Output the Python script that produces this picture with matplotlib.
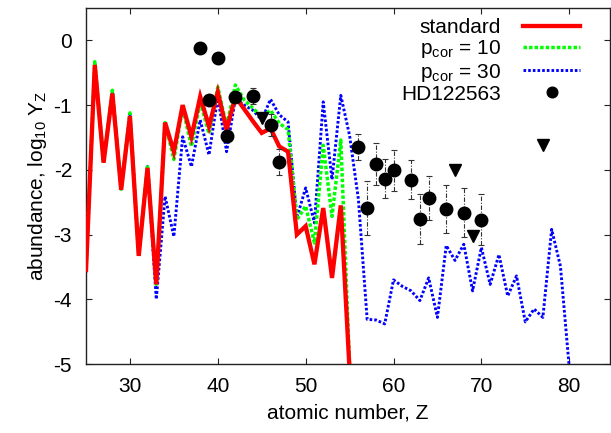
import numpy as np
import matplotlib
matplotlib.use("Agg")
import matplotlib.pyplot as plt

plt.rcParams['font.family'] = ['Liberation Sans', 'DejaVu Sans']
plt.rcParams['mathtext.fontset'] = 'custom'
plt.rcParams['mathtext.rm'] = 'Liberation Sans'
plt.rcParams['mathtext.it'] = 'Liberation Sans:italic'
plt.rcParams['axes.unicode_minus'] = False

# ---- data ----
z_std = list(range(25, 56))
y_std = [-3.55, -0.38, -1.89, -0.82, -2.31, -1.17, -3.33, -1.97, -3.77, -1.27,
         -1.72, -1.00, -1.49, -0.87, -1.33, -0.80, -1.38, -0.87, -1.06, -1.25,
         -1.43, -1.36, -1.64, -1.72, -3.00, -2.87, -3.46, -2.59, -3.67, -2.55,
         -5.10]

z_p10 = list(range(25, 56))
y_p10 = [-3.55, -0.33, -1.87, -0.77, -2.30, -1.12, -3.30, -1.93, -3.77, -1.27,
         -1.84, -1.04, -1.64, -0.95, -1.44, -0.72, -1.33, -0.69, -0.92, -1.05,
         -1.18, -1.08, -1.28, -1.38, -2.77, -2.56, -3.13, -1.62, -2.72, -1.54,
         -5.02]

z_p30 = list(range(25, 81))
y_p30 = [-3.55, -0.35, -1.88, -0.79, -2.30, -1.14, -3.31, -1.95, -4.00, -2.41,
         -3.03, -1.49, -1.95, -1.23, -1.77, -0.87, -1.72, -0.90, -1.00, -1.08,
         -1.23, -0.91, -1.15, -1.26, -2.74, -2.28, -2.82, -0.95, -2.15, -0.85,
         -1.47, -2.45, -4.31, -4.32, -4.38, -3.70, -3.80, -3.87, -4.02, -3.67,
         -4.28, -3.17, -3.40, -3.15, -3.87, -3.20, -3.77, -3.31, -3.95, -3.64,
         -4.35, -4.15, -4.28, -2.92, -3.49, -5.05]

obs_z = [38, 39, 40, 41, 42, 44, 46, 47, 56, 57, 58, 59, 60, 62, 63, 64, 66, 68, 70]
obs_y = [-0.12, -0.92, -0.28, -1.48, -0.87, -0.86, -1.31, -1.88, -1.65, -2.59,
         -1.91, -2.14, -2.01, -2.15, -2.76, -2.44, -2.61, -2.66, -2.77]
obs_err = [0, 0, 0, 0, 0, 0.12, 0.17, 0.20, 0.20, 0.41,
           0.32, 0.30, 0.32, 0.30, 0.38, 0.34, 0.37, 0.38, 0.39]

lim_z = [45, 67, 69, 77]
lim_y = [-1.20, -2.01, -3.02, -1.62]

xticks = [30, 40, 50, 60, 70, 80]
yticks = [0, -1, -2, -3, -4, -5]

# ---- figure ----
fig = plt.figure(figsize=(6.11, 4.33), dpi=100)
ax = fig.add_axes([86/611, (433-364)/433, (610-86)/611, (364-8)/433])

ax.plot(z_p30, y_p30, color='#0000ff', lw=2.1, linestyle=(0, (0.9, 0.7)),
        label=r'p$_\mathrm{cor}$ = 30', zorder=2)
ax.plot(z_p10, y_p10, color='#00ff00', lw=2.5, linestyle=(0, (1.0, 0.6)),
        label=r'p$_\mathrm{cor}$ = 10', zorder=3)
ax.plot(z_std, y_std, color='#ff0000', lw=3.1, solid_joinstyle='miter',
        label='standard', zorder=4)

ez = [z for z, e in zip(obs_z, obs_err) if e > 0]
ey = [y for y, e in zip(obs_y, obs_err) if e > 0]
ee = [e for e in obs_err if e > 0]
eb = ax.errorbar(ez, ey, yerr=ee, fmt='none', ecolor='#333333', elinewidth=0.8,
                 capsize=2.5, capthick=0.8, zorder=5)
for lc in eb[2]:
    lc.set_linestyle((0, (4, 1.5, 1, 1.5)))

ax.plot(obs_z, obs_y, 'o', color='black', markersize=9, linestyle='none',
        label='HD122563', zorder=6)
ax.plot(lim_z, lim_y, 'v', color='black', markersize=8, linestyle='none', zorder=6)

ax.set_xlim(25, 25 + 524/8.786)
ax.set_ylim(-5, 0.5)
ax.set_xticks(xticks)
ax.set_yticks(yticks)
ax.set_xticklabels([str(t) for t in xticks])
ax.set_yticklabels([str(t) for t in yticks])
ax.tick_params(direction='in', length=4.5, width=0.8, top=True, right=True,
               labelsize=15, colors='#222222', labelcolor='black')
ax.tick_params(axis='y', pad=10)
ax.tick_params(axis='x', pad=9)
for s in ax.spines.values():
    s.set_linewidth(1.0)
    s.set_color('#222222')

ax.set_xlabel('atomic number, Z', fontsize=15, labelpad=6)
ax.set_ylabel(r'abundance, log$_\mathrm{10}$ Y$_\mathrm{Z}$', fontsize=15, labelpad=3)

handles, labels = ax.get_legend_handles_labels()
order = ['standard', r'p$_\mathrm{cor}$ = 10', r'p$_\mathrm{cor}$ = 30', 'HD122563']
hmap = dict(zip(labels, handles))
leg = ax.legend([hmap[l] for l in order], order, loc='upper right',
                markerfirst=False, frameon=False, fontsize=15,
                handlelength=2.7, handletextpad=1.1, labelspacing=0.05,
                borderaxespad=0.2, borderpad=0.3, markerscale=0.85,
                bbox_to_anchor=(0.962, 1.0))

fig.savefig('out.png', dpi=100)
